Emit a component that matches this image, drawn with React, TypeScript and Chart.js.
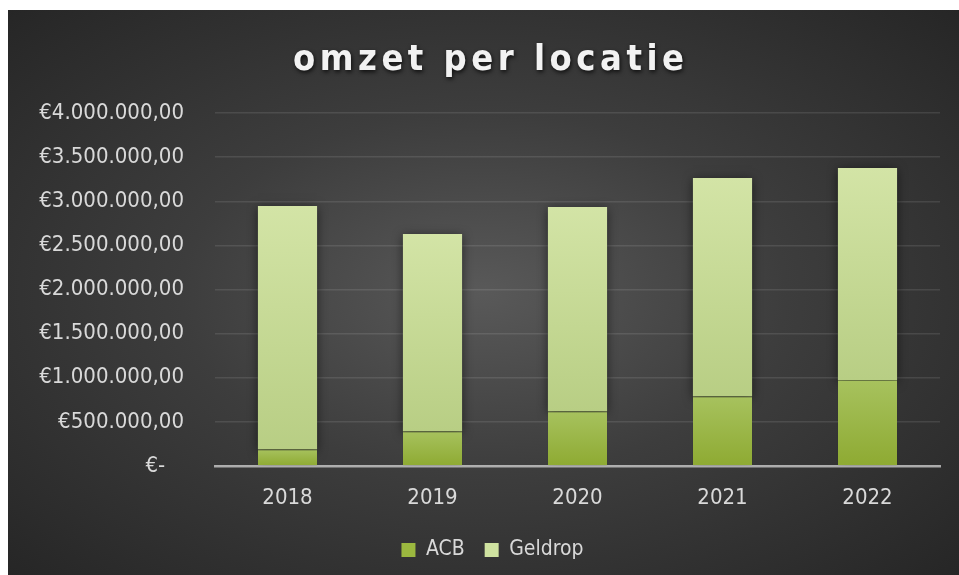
import React, { useEffect, useRef } from 'react';
import { Chart, registerables } from 'chart.js';

Chart.register(...registerables);

const TITLE = 'omzet per locatie';
const years = ['2018', '2019', '2020', '2021', '2022'];
const acb = [189000, 393000, 620000, 790000, 975000];
const geldrop = [2757000, 2236000, 2315000, 2473000, 2402000];
const seriesNames = ['ACB', 'Geldrop'];
const yMax = 4000000;
const yStep = 500000;

const FONT = '"DejaVu Sans Condensed", "DejaVu Sans", sans-serif';

function fmtEuro(v: number): string {
  if (v === 0) return '€-   ';
  const whole = Math.round(v).toString().replace(/\B(?=(\d{3})+(?!\d))/g, '.');
  return '€' + whole + ',00';
}

function barGradient(top: string, bottom: string) {
  return (c: any) => {
    const chart = c.chart;
    const y = chart.scales && chart.scales.y;
    if (!y || c.type !== 'data') return bottom;
    const i = c.datasetIndex;
    const j = c.dataIndex;
    let start = 0;
    for (let k = 0; k < i; k++) start += Number(chart.data.datasets[k].data[j]);
    const end = start + Number(chart.data.datasets[i].data[j]);
    const y0 = y.getPixelForValue(start);
    const y1 = y.getPixelForValue(end);
    if (!isFinite(y0) || !isFinite(y1) || y0 === y1) return bottom;
    const g = chart.ctx.createLinearGradient(0, y1, 0, y0);
    g.addColorStop(0, top);
    g.addColorStop(1, bottom);
    return g;
  };
}

const shadowPlugin = {
  id: 'barShadow',
  beforeDatasetsDraw(chart: any) {
    const ctx = chart.ctx;
    ctx.save();
    ctx.shadowColor = 'rgba(0,0,0,0.55)';
    ctx.shadowBlur = 10;
    ctx.shadowOffsetX = 0;
    ctx.shadowOffsetY = 2;
  },
  afterDatasetsDraw(chart: any) {
    chart.ctx.restore();
  },
};

const titlePlugin = {
  id: 'spacedTitle',
  afterDraw(chart: any) {
    const ctx = chart.ctx;
    ctx.save();
    ctx.font = 'bold 36px ' + FONT;
    const spacing = 4.5;
    (ctx as any).letterSpacing = spacing + 'px';
    ctx.fillStyle = '#f2f2f2';
    ctx.textBaseline = 'alphabetic';
    ctx.textAlign = 'left';
    ctx.shadowColor = 'rgba(0,0,0,0.75)';
    ctx.shadowBlur = 4;
    ctx.shadowOffsetX = 1;
    ctx.shadowOffsetY = 2;
    const w = ctx.measureText(TITLE).width - spacing;
    const cx = chart.width / 2 + 5;
    ctx.fillText(TITLE, cx - w / 2, 60);
    ctx.restore();
  },
};

export default function App() {
  const ref = useRef<HTMLCanvasElement | null>(null);

  useEffect(() => {
    if (!ref.current) return;
    const solid = ['#9bb83f', '#cfe2a0'];
    const chart = new Chart(ref.current, {
      type: 'bar',
      data: {
        labels: years,
        datasets: [
          {
            label: seriesNames[0],
            data: acb,
            backgroundColor: barGradient('#a7c25e', '#8eaa32'),
            borderColor: '#7c8f4e',
            borderWidth: { top: 1, left: 0, right: 0, bottom: 0 },
            borderSkipped: false,
            categoryPercentage: 1,
            barPercentage: 0.408,
          },
          {
            label: seriesNames[1],
            data: geldrop,
            backgroundColor: barGradient('#d3e4a6', '#b8ce84'),
            borderWidth: 0,
            categoryPercentage: 1,
            barPercentage: 0.408,
          },
        ],
      },
      options: {
        animation: false,
        responsive: false,
        maintainAspectRatio: false,
        layout: { padding: { top: 103, left: 24, right: 6, bottom: 4.5 } },
        scales: {
          x: {
            stacked: true,
            z: 1,
            grid: { display: false, drawTicks: false },
            border: { display: true, color: 'rgba(200,200,200,0.8)', width: 2.5 },
            ticks: { color: '#d9d9d9', font: { family: FONT, size: 22 }, padding: 19 },
            afterFit: (s: any) => { s.height = 53.5; },
          },
          y: {
            stacked: true,
            min: 0,
            max: yMax,
            grid: { color: 'rgba(255,255,255,0.1)', lineWidth: 1.5, drawTicks: false },
            border: { display: false },
            ticks: {
              stepSize: yStep,
              color: '#d9d9d9',
              font: { family: FONT, size: 22 },
              padding: 31,
              callback: (v: any) => fmtEuro(Number(v)),
            },
            afterFit: (s: any) => { s.width = 183; },
          },
          yRight: {
            type: 'linear',
            position: 'right',
            display: true,
            grid: { display: false, drawTicks: false },
            border: { display: false },
            ticks: { display: false },
            afterFit: (s: any) => { s.width = 13; },
          },
        },
        plugins: {
          title: { display: false },
          tooltip: { enabled: false },
          legend: {
            position: 'bottom',
            labels: {
              color: '#d9d9d9',
              font: { family: FONT, size: 21 },
              boxWidth: 14,
              boxHeight: 14,
              padding: 20,
              generateLabels: (ch: any) => {
                const items = Chart.defaults.plugins.legend.labels.generateLabels(ch);
                items.forEach((it: any, idx: number) => {
                  it.fillStyle = solid[idx];
                  it.strokeStyle = solid[idx];
                  it.lineWidth = 0;
                });
                return items;
              },
            },
          },
        },
      },
      plugins: [shadowPlugin, titlePlugin],
    } as any);
    return () => chart.destroy();
  }, []);

  return (
    <div
      style={{
        position: 'absolute',
        left: 8,
        top: 10,
        width: 951,
        height: 565,
        background:
          'radial-gradient(ellipse farthest-corner at 50% 50%, #595959 0%, #3d3d3d 45%, #262626 100%)',
      }}
    >
      <canvas ref={ref} width={951} height={565} style={{ display: 'block' }} />
    </div>
  );
}
